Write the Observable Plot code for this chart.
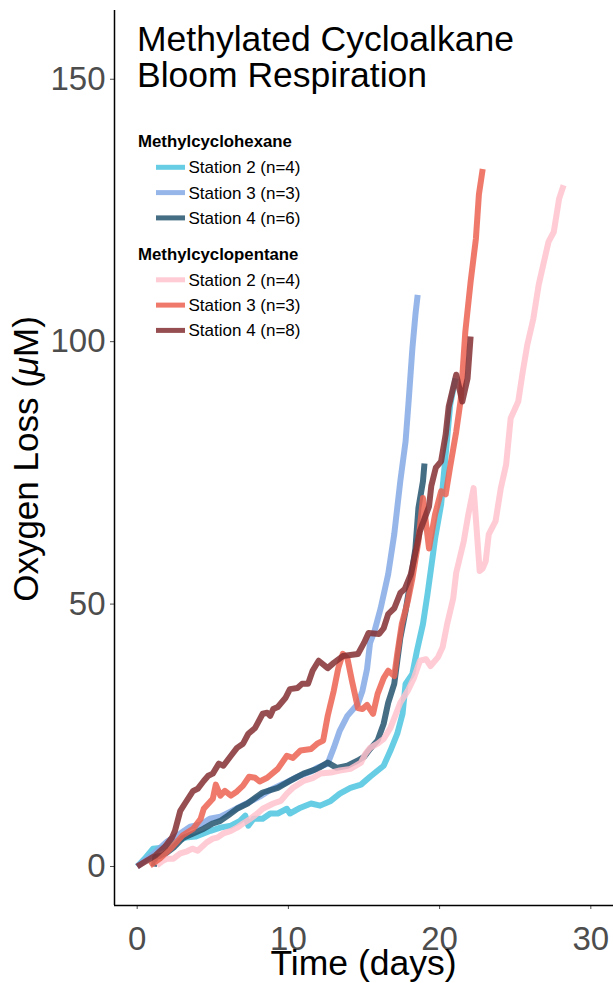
<!DOCTYPE html>
<html>
<head>
<meta charset="utf-8">
<script src="https://cdn.jsdelivr.net/npm/d3@7"></script>
<script src="https://cdn.jsdelivr.net/npm/@observablehq/plot@0.6"></script>
<style>
  html, body { margin: 0; padding: 0; background: white; }
  #chart { width: 613px; height: 983px; }
</style>
</head>
<body>
<div id="chart"></div>
<script>
// ---- Data ----
const mch2Days = [0,0.5,1.05,1.65,2.2,2.65,3.2,3.85,4.4,4.85,5.5,6.2,6.8,7.15,7.35,7.7,8.3,8.8,9.3,9.9,10.1,10.8,11.5,12.1,12.8,13.4,14.1,14.8,15.4,16.3,16.75,17.2,17.55,17.75,18.2,18.5,18.9,19.2,19.5,19.7,20.1,20.5,20.7,21.05];
const mch2Vals = [0,1.5,3.4,3.6,4.4,4.9,5.5,5.7,6.3,6.8,7.4,7.8,8.7,9.7,7.8,9.1,9.1,10.1,10.1,11.0,10.1,11.2,12.0,11.6,12.5,13.9,15.0,15.6,17.1,19.2,22.1,25.3,29.1,34.8,36.7,41.1,46.2,51.9,58.2,62.5,69.0,81.6,88.0,93.0];

const mch3Days = [0,0.5,1.2,2.0,2.85,3.5,4.2,4.8,5.5,6.2,6.8,7.5,8.1,8.8,9.7,10.6,11.5,11.9,12.6,13.0,13.4,13.9,14.6,14.9,15.2,15.4,15.7,16.1,16.6,17.0,17.4,17.75,17.95,18.2,18.4,18.55];
const mch3Vals = [0,1.1,2.7,4.8,6.3,7.6,8.0,9.1,9.5,10.5,11.4,12.4,13.3,14.6,15.8,17.1,18.1,18.8,19.6,22.6,25.9,28.7,31.0,33.5,37.6,42.6,44.9,49.2,55.7,63.3,73.4,81.0,88.6,98.7,105.1,108.9];

const mch4Days = [1.1,1.2,1.7,2.4,3.05,3.7,4.4,5.0,5.5,6.0,6.6,7.3,8.0,8.3,9.3,10.1,11.0,11.9,12.6,13.2,13.9,14.6,15.0,15.4,15.9,16.3,16.6,17.0,17.4,17.75,18.1,18.4,18.6,18.9,19.0];
const mch4Vals = [0,1.8,2.1,3.6,5.5,6.3,7.2,8.2,8.7,9.7,11.0,12.0,13.5,14.1,15.0,16.3,17.7,18.6,19.8,18.8,19.2,20.2,20.9,22.4,24.0,27.2,31.2,34.8,43.5,48.7,54.9,60.6,68.3,73.4,76.8];

const mcp2Days = [1.3,1.7,2.0,2.4,2.85,3.3,3.65,4.0,4.6,5.0,5.3,5.7,6.2,6.6,7.0,7.5,7.95,8.3,9.0,9.5,9.9,10.3,11.0,11.65,12.1,12.8,13.4,14.1,14.8,15.1,15.4,15.9,16.3,16.75,17.4,17.9,18.3,18.7,19.1,19.4,19.9,20.2,20.5,20.9,21.1,21.6,21.9,22.25,22.65,22.85,23.05,23.25,23.7,24.05,24.4,24.7,25.2,25.5,25.8,26.2,26.55,27.0,27.2,27.55,27.9,28.2];
const mcp2Vals = [0.2,1.1,1.5,1.5,2.5,2.9,3.4,3.0,4.6,5.3,5.5,6.3,6.8,7.4,8.2,9.1,10.1,11.0,12.0,12.5,13.9,15.0,16.3,16.9,17.7,17.9,18.3,18.6,19.8,21.5,22.6,23.4,24.3,26.4,31.2,33.5,35.9,39.2,39.5,38.2,39.9,41.8,46.2,51.1,56.0,62.0,67.1,72.1,56.3,56.8,58.2,63.3,65.8,72.1,76.6,85.4,88.6,94.3,99.4,104.4,110.8,116.5,119.0,120.9,127.2,129.8];

const mcp3Days = [0.85,1.5,2.2,3.0,3.7,4.2,4.4,5.0,5.2,5.5,5.8,6.2,6.6,7.0,7.4,7.8,8.1,8.6,9.3,9.9,10.3,10.8,11.5,11.9,12.3,12.6,13.0,13.3,13.6,13.9,14.2,14.6,14.9,15.2,15.6,15.9,16.3,16.6,17.0,17.2,17.5,17.9,18.2,18.6,18.9,19.3,19.7,20.1,20.4,20.7,21.1,21.4,21.7,22.05,22.4,22.6,22.85];
const mcp3Vals = [0.2,1.5,3.4,5.9,7.2,9.1,11.0,12.9,15.6,13.5,14.4,13.5,14.3,15.4,17.1,16.9,16.2,16.9,18.6,21.1,20.7,22.1,22.4,23.4,24.0,28.7,33.5,37.8,40.5,39.7,35.4,30.2,30.0,30.8,29.1,32.9,35.9,37.3,36.3,40.5,46.2,50.6,54.9,62.0,70.2,60.6,67.1,71.5,70.9,76.2,82.9,89.0,101.9,111.4,119.6,128.1,132.9];

const mcp4Days = [0,1.2,1.85,2.3,2.5,2.85,3.2,3.7,4.0,4.4,4.7,5.0,5.4,5.7,6.2,6.6,7.0,7.35,7.8,8.3,8.6,8.8,9.0,9.3,9.8,10.1,10.6,10.9,11.3,11.6,12.0,12.6,13.0,13.6,14.6,15.0,15.3,16.0,16.3,16.6,17.0,17.4,17.7,18.1,18.7,19.3,19.45,19.75,20.1,20.4,20.6,21.1,21.5,21.85,22.05];
const mcp4Vals = [0,2.1,3.8,5.5,6.8,10.6,12.2,14.4,14.8,16.3,17.3,17.7,19.6,19.2,21.1,22.6,23.4,25.3,26.4,29.1,29.3,28.7,30.0,30.4,32.1,33.8,34.0,34.8,34.8,37.3,39.2,37.8,38.8,40.1,40.5,42.6,44.5,44.3,45.4,48.1,49.2,52.1,52.9,55.7,63.9,68.6,72.5,76.0,77.2,82.3,87.6,93.7,88.6,93.0,101.0];

const seriesKeys = ["MCH Station 2","MCH Station 3","MCH Station 4","MCP Station 2","MCP Station 3","MCP Station 4"];
const seriesColors = ["#4cc4df","#84a9e6","#24546f","#ffc2cd","#ec6352","#842f33"];
const legendGroups = ["Methylcyclohexane","Methylcyclopentane"];
const legendLabels = [
  ["Station 2 (n=4)","Station 3 (n=3)","Station 4 (n=6)"],
  ["Station 2 (n=4)","Station 3 (n=3)","Station 4 (n=8)"]
];
const xTicks = [0,10,20,30];
const yTicks = [0,50,100,150];
const titleLines = ["Methylated Cycloalkane","Bloom Respiration"];

// ---- Build table ----
const seriesDays = [mch2Days, mch3Days, mch4Days, mcp2Days, mcp3Days, mcp4Days];
const seriesVals = [mch2Vals, mch3Vals, mch4Vals, mcp2Vals, mcp3Vals, mcp4Vals];
const rows = seriesKeys.flatMap((k, si) =>
  seriesDays[si].map((d, i) => ({series: k, day: d, value: seriesVals[si][i]})));

const FONT = "'Liberation Sans', Arial, Helvetica, sans-serif";
const xDom = [-1.5, 31.5];
const yDom = [-7.43, 163.1];

const chart = Plot.plot({
  width: 613,
  height: 983,
  marginLeft: 114,
  marginRight: 0,
  marginTop: 10,
  marginBottom: 78,
  x: {domain: xDom},
  y: {domain: yDom},
  color: {domain: seriesKeys, range: seriesColors},
  style: {fontFamily: FONT, background: "white", overflow: "visible"},
  marks: [
    Plot.line(rows, {x: "day", y: "value", z: "series", stroke: "series",
      strokeWidth: 6, strokeOpacity: 0.85, strokeLinecap: "butt", strokeLinejoin: "round"}),
    Plot.axisX({ticks: xTicks, tickSize: 4, tickPadding: 17, fontSize: 33, color: "#4d4d4d", label: null}),
    Plot.axisY({ticks: yTicks, tickSize: 4, tickPadding: 5, fontSize: 33, color: "#4d4d4d", label: null}),
    Plot.ruleX([xDom[0]], {stroke: "black", strokeWidth: 1.5}),
    Plot.ruleY([yDom[0]], {stroke: "black", strokeWidth: 1.5})
  ]
});

document.getElementById("chart").appendChild(chart);

// ---- Title, axis titles and legend inside the SVG ----
const svg = d3.select(chart);
const g = svg.append("g").attr("font-family", FONT).attr("text-anchor", "start");

g.selectAll("text.title").data(titleLines).join("text")
  .attr("x", 137).attr("y", (d, i) => 51 + i * 36)
  .attr("text-anchor", "start")
  .attr("font-size", 35.5).attr("fill", "black").text(d => d);

// axis titles
g.append("text")
  .attr("x", 363.5).attr("y", 975)
  .attr("text-anchor", "middle").attr("font-size", 35.5).attr("fill", "black")
  .text("Time (days)");

const yt = g.append("text")
  .attr("transform", "translate(38,459) rotate(-90)")
  .attr("text-anchor", "middle").attr("font-size", 35).attr("fill", "black");
yt.append("tspan").text("Oxygen Loss (");
yt.append("tspan").attr("font-style", "italic").text("\u03bc");
yt.append("tspan").text("M)");

// legend
const groupBase = [147, 259.5];
legendGroups.forEach((name, gi) => {
  const y0 = groupBase[gi];
  g.append("text").attr("x", 138).attr("y", y0).attr("text-anchor", "start")
    .attr("font-size", 16.8).attr("font-weight", "bold").attr("fill", "black").text(name);
  legendLabels[gi].forEach((lab, j) => {
    const yb = y0 + 26.3 + j * 25.3;
    const color = seriesColors[gi * 3 + j];
    g.append("line").attr("x1", 156).attr("x2", 185).attr("y1", yb - 6).attr("y2", yb - 6)
      .attr("stroke", color).attr("stroke-width", 5).attr("stroke-opacity", 0.85);
    g.append("text").attr("x", 188.5).attr("y", yb).attr("text-anchor", "start")
      .attr("font-size", 17).attr("fill", "black").text(lab);
  });
});
</script>
</body>
</html>
